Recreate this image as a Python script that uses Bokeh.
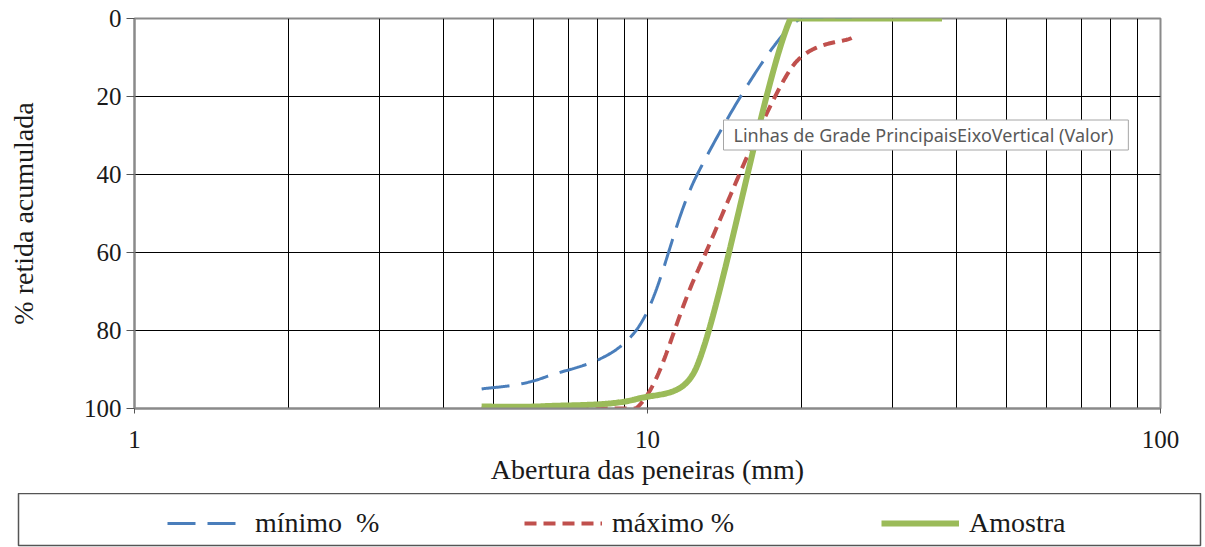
import numpy as np
from bokeh.plotting import figure
from bokeh.layouts import column
from bokeh.models import (Range1d, FixedTicker, Legend, LegendItem, Label,
                          NumeralTickFormatter)
from bokeh.embed import file_html
from bokeh.resources import INLINE

# ---- data ----
sieves_limits = [4.75, 6.3, 9.5, 12.5, 19, 25]
minimo = [95, 92, 80, 40, 2, 0]
maximo = [100, 100, 100, 65, 13, 5]
sieves_sample = [4.75, 6.3, 9.5, 12.5, 19, 25, 37.5]
amostra = [99.5, 99.4, 97.6, 89, 0, 0, 0]
x_ticks = [1, 10, 100]
y_ticks = [0, 20, 40, 60, 80, 100]
x_grid = [2, 3, 4, 5, 6, 7, 8, 9, 10, 20, 30, 40, 50, 60, 70, 80, 90]
y_grid = [20, 40, 60, 80]
legend_labels = ["m\u00ednimo\u00a0 %", "m\u00e1ximo %", "Amostra"]

# frame size in pixels (used only to make the smoothing isotropic, like Excel does on screen)
FRAME_W, FRAME_H = 1026, 390
PX_PER_DECADE = FRAME_W / 2.0
PX_PER_UNIT = FRAME_H / 100.0


def smooth(xs, ys, n=60):
    """Excel-like smoothed line: Bezier segments, tangent (P2-P0)/6 capped at half a segment."""
    px = np.log10(np.asarray(xs, float)) * PX_PER_DECADE
    py = np.asarray(ys, float) * PX_PER_UNIT
    m = len(px)
    t = np.linspace(0, 1, n, endpoint=False)
    ox, oy = [], []
    for i in range(m - 1):
        i0 = max(i - 1, 0)
        i3 = min(i + 2, m - 1)
        d12 = np.hypot(px[i + 1] - px[i], py[i + 1] - py[i])
        d02 = np.hypot(px[i + 1] - px[i0], py[i + 1] - py[i0])
        d13 = np.hypot(px[i3] - px[i], py[i3] - py[i])
        k1 = min(1 / 6, 0.5 * d12 / d02) if d02 > 0 else 1 / 6
        k2 = min(1 / 6, 0.5 * d12 / d13) if d13 > 0 else 1 / 6
        c1x = px[i] + (px[i + 1] - px[i0]) * k1
        c1y = py[i] + (py[i + 1] - py[i0]) * k1
        c2x = px[i + 1] - (px[i3] - px[i]) * k2
        c2y = py[i + 1] - (py[i3] - py[i]) * k2
        a, b, c, e = (1 - t) ** 3, 3 * (1 - t) ** 2 * t, 3 * (1 - t) * t ** 2, t ** 3
        ox.extend(a * px[i] + b * c1x + c * c2x + e * px[i + 1])
        oy.extend(a * py[i] + b * c1y + c * c2y + e * py[i + 1])
    ox.append(px[-1])
    oy.append(py[-1])
    x = 10 ** (np.array(ox) / PX_PER_DECADE)
    y = np.clip(np.array(oy) / PX_PER_UNIT, 0, 100)
    return x, y


SERIF = "Liberation Serif"
TXT = "#1a1a1a"
STYLE_MIN = dict(line_color="#4a7ebb", line_width=3, line_dash="28 12")
STYLE_MAX = dict(line_color="#c0504d", line_width=4, line_dash="12 7")
STYLE_AM = dict(line_color="#9bbb59", line_width=6)

p = figure(width=1205, height=493, x_axis_type="log",
           x_range=Range1d(1, 100), y_range=Range1d(100, 0),
           output_backend="svg", toolbar_location=None,
           min_border_left=134, min_border_right=45,
           min_border_top=18, min_border_bottom=85,
           background_fill_color="white", border_fill_color="white")
p.frame_align = False

p.outline_line_color = "#8a8a8a"
p.outline_line_width = 2

# grid
p.xgrid.ticker = FixedTicker(ticks=x_grid)
p.xgrid.grid_line_color = "black"
p.xgrid.grid_line_width = 1
p.ygrid.ticker = FixedTicker(ticks=y_grid)
p.ygrid.grid_line_color = "black"
p.ygrid.grid_line_width = 1

# axes
p.xaxis.ticker = FixedTicker(ticks=x_ticks)
p.xaxis.formatter = NumeralTickFormatter(format="0")
p.yaxis.ticker = FixedTicker(ticks=y_ticks)
for ax in (p.xaxis[0], p.yaxis[0]):
    ax.axis_line_color = "#8a8a8a"
    ax.axis_line_width = 2
    ax.major_tick_line_color = "#555555"
    ax.major_tick_line_width = 1
    ax.minor_tick_line_color = None
    ax.major_label_text_font = SERIF
    ax.major_label_text_font_size = "25px"
    ax.major_label_text_color = TXT
    ax.axis_label_text_font = SERIF
    ax.axis_label_text_font_size = "28px"
    ax.axis_label_text_font_style = "normal"
    ax.axis_label_text_color = TXT

p.xaxis.major_tick_in = 0
p.xaxis.major_tick_out = 5
p.xaxis.major_label_standoff = 17
p.xaxis.axis_label = "Abertura das peneiras (mm)"
p.xaxis.axis_label_standoff = 3

p.yaxis.major_tick_in = 0
p.yaxis.major_tick_out = 8
p.yaxis.major_label_standoff = 5
p.yaxis.axis_label = "% retida acumulada"
p.yaxis.axis_label_standoff = 42

# series
bx, by = smooth(sieves_limits, minimo)
rx, ry = smooth(sieves_limits, maximo)
gx, gy = smooth(sieves_sample, amostra)

p.line(bx, by, **STYLE_MIN)
p.line(rx, ry, **STYLE_MAX)
p.line(gx, gy, **STYLE_AM)

# tooltip-like annotation seen in the reference
tip = Label(x=10 ** ((723 - 134) / PX_PER_DECADE), y=(134.5 - 18) / PX_PER_UNIT,
            text="Linhas de Grade PrincipaisEixoVertical (Valor)",
            text_font="Noto Sans", text_font_size="18px", text_color="#595959",
            text_baseline="middle", text_align="left",
            background_fill_color="white", border_line_color="#a6a6a6",
            border_line_width=1, padding=(10, 15, 3, 3))
p.add_layout(tip)

# ---- legend strip below the chart ----
lg = figure(width=1205, height=54, x_range=Range1d(0, 1), y_range=Range1d(0, 1),
            output_backend="svg", toolbar_location=None,
            x_axis_location=None, y_axis_location=None,
            min_border_left=18, min_border_right=5,
            min_border_top=0, min_border_bottom=2,
            background_fill_color="white", border_fill_color="white")
lg.frame_align = False
lg.grid.visible = False
lg.outline_line_color = "#555555"
lg.outline_line_width = 1.5

# legend keys only: their points lie outside the strip's visible range
l_min = lg.line([2, 3], [2, 2], **STYLE_MIN)
l_max = lg.line([2, 3], [2, 2], **STYLE_MAX)
l_am = lg.line([2, 3], [2, 2], **STYLE_AM)

legend = Legend(items=[LegendItem(label=legend_labels[0], renderers=[l_min]),
                       LegendItem(label=legend_labels[1], renderers=[l_max]),
                       LegendItem(label=legend_labels[2], renderers=[l_am])],
                orientation="horizontal", location=(149, 6),
                padding=10, spacing=0, glyph_width=78, glyph_height=30,
                label_standoff=10, label_width=269, label_height=30,
                label_text_font=SERIF, label_text_font_size="28px",
                label_text_color=TXT, border_line_color=None,
                background_fill_alpha=0, margin=0)
lg.add_layout(legend, "center")

layout = column(p, lg, spacing=0)
open("out.html", "w").write(file_html(layout, INLINE))
